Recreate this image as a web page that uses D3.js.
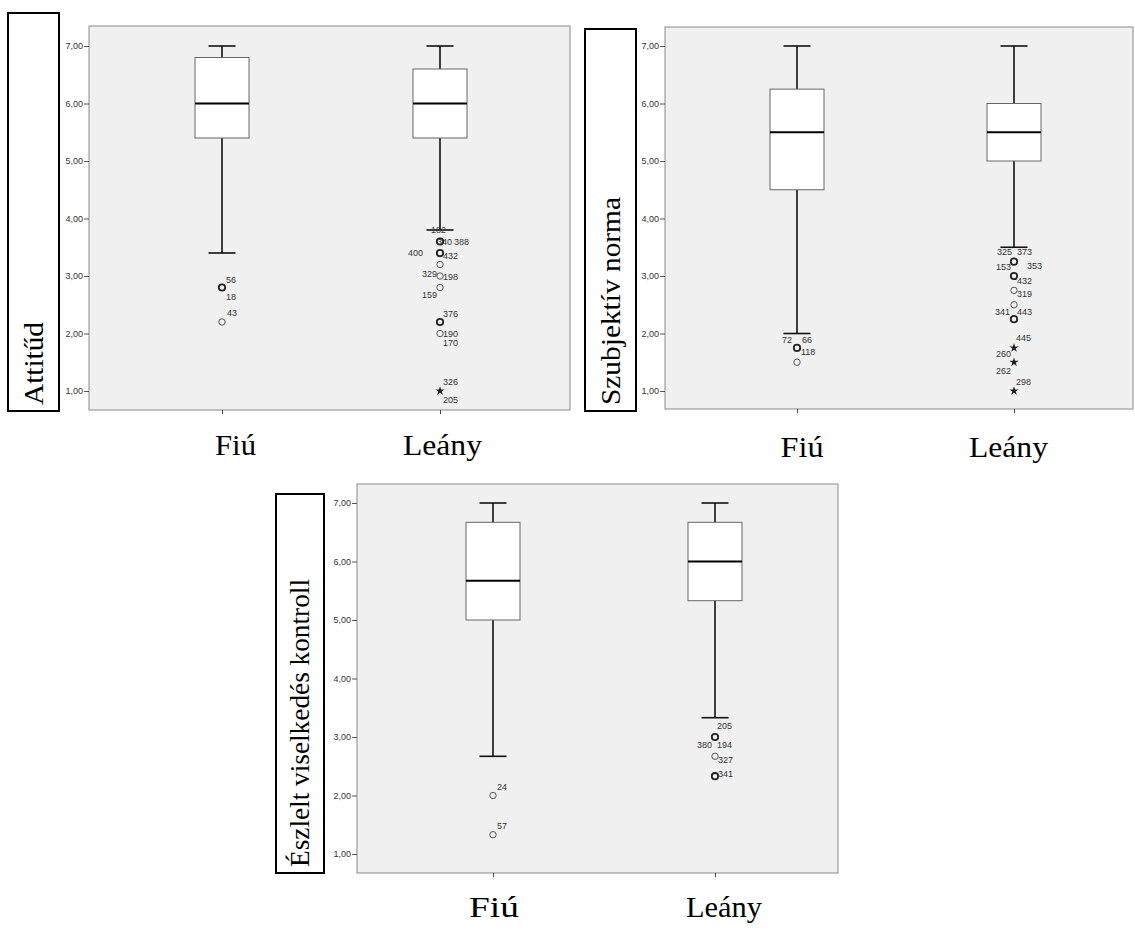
<!DOCTYPE html>
<html>
<head>
<meta charset="utf-8">
<script src="https://cdn.jsdelivr.net/npm/d3@7/dist/d3.min.js"></script>
<style>
  html, body { margin: 0; padding: 0; background: #fff; }
  svg { display: block; }
</style>
</head>
<body>
<svg id="chart" width="1135" height="933"></svg>
<script>
// ---- data ----
const categories = ["Fiú", "Leány"];
const yTicks = [1, 2, 3, 4, 5, 6, 7];

// box statistics per category: [min whisker, Q1, median, Q3, max whisker]
const attitudBoxes = [[3.4, 5.4, 6.0, 6.8, 7.0], [3.8, 5.4, 6.0, 6.6, 7.0]];
const normaBoxes   = [[2.0, 4.5, 5.5, 6.25, 7.0], [3.5, 5.0, 5.5, 6.0, 7.0]];
const kontrollBoxes = [[2.67, 5.0, 5.67, 6.67, 7.0], [3.33, 5.33, 6.0, 6.67, 7.0]];

// outliers: [category, value, kind ("o" outlier, "*" extreme), case ids, overlapping cases]
const attitudOutliers = [
  ["Fiú", 2.8, "o", ["56", "18"], true],
  ["Fiú", 2.2, "o", ["43"], false],
  ["Leány", 3.6, "o", ["182", "340", "388"], true],
  ["Leány", 3.4, "o", ["400", "432"], true],
  ["Leány", 3.2, "o", [], false],
  ["Leány", 3.0, "o", ["329", "198"], false],
  ["Leány", 2.8, "o", ["159"], false],
  ["Leány", 2.2, "o", ["376"], true],
  ["Leány", 2.0, "o", ["190", "170"], false],
  ["Leány", 1.0, "*", ["326", "205"], false]
];
const normaOutliers = [
  ["Fiú", 1.75, "o", ["72", "66"], true],
  ["Fiú", 1.5, "o", ["118"], false],
  ["Leány", 3.25, "o", ["325", "373", "153", "353"], true],
  ["Leány", 3.0, "o", ["432"], true],
  ["Leány", 2.75, "o", ["319"], false],
  ["Leány", 2.5, "o", ["341", "443"], false],
  ["Leány", 2.25, "o", [], true],
  ["Leány", 1.75, "*", ["445"], false],
  ["Leány", 1.5, "*", ["260"], true],
  ["Leány", 1.0, "*", ["262", "298"], false]
];
const kontrollOutliers = [
  ["Fiú", 2.0, "o", ["24"], false],
  ["Fiú", 1.33, "o", ["57"], false],
  ["Leány", 3.0, "o", ["205", "380", "194"], true],
  ["Leány", 2.67, "o", ["327"], false],
  ["Leány", 2.33, "o", ["341"], true]
];

// ---- layout ----
// placement of each case-id label relative to its point: [dx, dy, anchor]
const labelPlacement = {
  attitud: [
    [[4, -5, "start"], [4, 12, "start"]],
    [[5, -6, "start"]],
    [[-9, -8.5, "start"], [-3, 3, "start"], [14, 3, "start"]],
    [[-17, 3, "end"], [3, 6, "start"]],
    [],
    [[-3, 1, "end"], [3, 4, "start"]],
    [[-3, 10, "end"]],
    [[3, -5, "start"]],
    [[3, 3, "start"], [3, 12, "start"]],
    [[3, -6, "start"], [3, 12, "start"]]
  ],
  norma: [
    [[-5, -5, "end"], [5, -5, "start"]],
    [[4, -7, "start"]],
    [[-2, -7, "end"], [3, -7, "start"], [-3, 8, "end"], [13, 7, "start"]],
    [[3, 8, "start"]],
    [[3, 7, "start"]],
    [[-4, 10, "end"], [3, 10, "start"]],
    [],
    [[2, -7, "start"]],
    [[-3, -5, "end"]],
    [[-3, -17, "end"], [2, -6, "start"]]
  ],
  kontroll: [
    [[4, -6, "start"]],
    [[4, -6, "start"]],
    [[2, -8, "start"], [-3, 11, "end"], [2, 11, "start"]],
    [[3, 7, "start"]],
    [[3, 1, "start"]]
  ]
};

const panels = [
  { key: "attitud", title: "Attitűd", boxes: attitudBoxes, outliers: attitudOutliers,
    plot: { x0: 89, x1: 570, y0: 26, y1: 410 }, yRange: [391, 46], xRange: [222, 440],
    titleBox: { x: 8, y: 13, w: 51, h: 398 }, titleLen: 83,
    catLabels: [{ cx: 235.5, y: 455, len: 41 }, { cx: 442.5, y: 455, len: 79 }] },
  { key: "norma", title: "Szubjektív norma", boxes: normaBoxes, outliers: normaOutliers,
    plot: { x0: 665, x1: 1133, y0: 27, y1: 409 }, yRange: [391, 46], xRange: [797, 1014],
    titleBox: { x: 585, y: 29, w: 51, h: 382 }, titleLen: 208,
    catLabels: [{ cx: 802, y: 457, len: 43 }, { cx: 1008.5, y: 457, len: 79 }] },
  { key: "kontroll", title: "Észlelt viselkedés kontroll", boxes: kontrollBoxes, outliers: kontrollOutliers,
    plot: { x0: 357, x1: 838, y0: 484, y1: 873 }, yRange: [854, 503], xRange: [493, 715],
    titleBox: { x: 276, y: 494, w: 48, h: 379 }, titleLen: 288,
    catLabels: [{ cx: 494, y: 917, len: 50 }, { cx: 724, y: 917, len: 76 }] }
];

const svg = d3.select("#chart");
const fmt = v => d3.format(".2f")(v).replace(".", ",");
const sans = "'Liberation Sans', Arial, sans-serif";
const serif = "'Liberation Serif', 'Times New Roman', serif";
const BOX_W = 54;

panels.forEach(p => {
  const g = svg.append("g").attr("class", "panel-" + p.key);
  const y = d3.scaleLinear().domain([1, 7]).range(p.yRange);
  const x = d3.scalePoint().domain(categories).range(p.xRange);

  // plot background
  g.append("rect")
    .attr("x", p.plot.x0).attr("y", p.plot.y0)
    .attr("width", p.plot.x1 - p.plot.x0).attr("height", p.plot.y1 - p.plot.y0)
    .attr("fill", "#f0f0f0").attr("stroke", "#8a8a8a").attr("stroke-width", 1);

  // y axis
  const yAxis = g.append("g")
    .attr("transform", `translate(${p.plot.x0},0)`)
    .call(d3.axisLeft(y).tickValues(yTicks).tickSize(5).tickPadding(1).tickFormat(fmt));
  yAxis.select(".domain").remove();
  yAxis.selectAll(".tick line").attr("stroke", "#555");
  yAxis.selectAll(".tick text").attr("fill", "#333").style("font-family", sans).style("font-size", "9px");

  // x axis ticks
  const xAxis = g.append("g")
    .attr("transform", `translate(0,${p.plot.y1})`)
    .call(d3.axisBottom(x).tickSize(4).tickFormat(""));
  xAxis.select(".domain").remove();
  xAxis.selectAll(".tick line").attr("stroke", "#444");

  // boxes
  p.boxes.forEach((b, i) => {
    const cx = x(categories[i]);
    const [mn, q1, md, q3, mx] = b;
    const bg = g.append("g");
    // whiskers
    bg.append("line").attr("x1", cx).attr("x2", cx).attr("y1", y(q3)).attr("y2", y(mx))
      .attr("stroke", "#111").attr("stroke-width", 1.6);
    bg.append("line").attr("x1", cx).attr("x2", cx).attr("y1", y(q1)).attr("y2", y(mn))
      .attr("stroke", "#111").attr("stroke-width", 1.6);
    [mn, mx].forEach(v => {
      bg.append("line").attr("x1", cx - BOX_W / 4).attr("x2", cx + BOX_W / 4)
        .attr("y1", y(v)).attr("y2", y(v)).attr("stroke", "#111").attr("stroke-width", 1.6);
    });
    // box
    bg.append("rect").attr("x", cx - BOX_W / 2).attr("y", y(q3))
      .attr("width", BOX_W).attr("height", y(q1) - y(q3))
      .attr("fill", "#fff").attr("stroke", "#666").attr("stroke-width", 1);
    // median
    bg.append("line").attr("x1", cx - BOX_W / 2).attr("x2", cx + BOX_W / 2)
      .attr("y1", y(md)).attr("y2", y(md)).attr("stroke", "#000").attr("stroke-width", 2);
  });

  // outliers and extreme values
  const star = d3.symbol().type(d3.symbolStar).size(26);
  p.outliers.forEach((o, k) => {
    const [cat, v, kind, ids, heavy] = o;
    const px = x(cat), py = y(v);
    if (kind === "o") {
      g.append("circle").attr("cx", px).attr("cy", py).attr("r", 3.2)
        .attr("fill", "none").attr("stroke", heavy ? "#222" : "#555")
        .attr("stroke-width", heavy ? 1.8 : 1);
    } else {
      g.append("path").attr("d", star).attr("transform", `translate(${px},${py})`)
        .attr("fill", "#222");
    }
    const place = labelPlacement[p.key][k];
    ids.forEach((id, j) => {
      const [dx, dy, anchor] = place[j];
      g.append("text").attr("x", px + dx).attr("y", py + dy)
        .attr("text-anchor", anchor).attr("fill", "#333")
        .style("font-family", sans).style("font-size", "9px").text(id);
    });
  });

  // title box with rotated label
  const tb = p.titleBox;
  g.append("rect").attr("x", tb.x).attr("y", tb.y).attr("width", tb.w).attr("height", tb.h)
    .attr("fill", "#fff").attr("stroke", "#000").attr("stroke-width", 2);
  const tcx = tb.x + tb.w / 2 + 9, tcy = tb.y + tb.h - 6;
  g.append("text").attr("transform", `translate(${tcx},${tcy}) rotate(-90)`)
    .attr("x", 0).attr("y", 0).attr("text-anchor", "start")
    .attr("textLength", p.titleLen).attr("lengthAdjust", "spacingAndGlyphs")
    .style("font-family", serif).style("font-size", "28px").attr("fill", "#000")
    .text(p.title);

  // category labels
  categories.forEach((c, i) => {
    const cl = p.catLabels[i];
    g.append("text").attr("x", cl.cx - cl.len / 2).attr("y", cl.y)
      .attr("textLength", cl.len).attr("lengthAdjust", "spacingAndGlyphs")
      .style("font-family", serif).style("font-size", "29px").attr("fill", "#000")
      .text(c);
  });
});
</script>
</body>
</html>
